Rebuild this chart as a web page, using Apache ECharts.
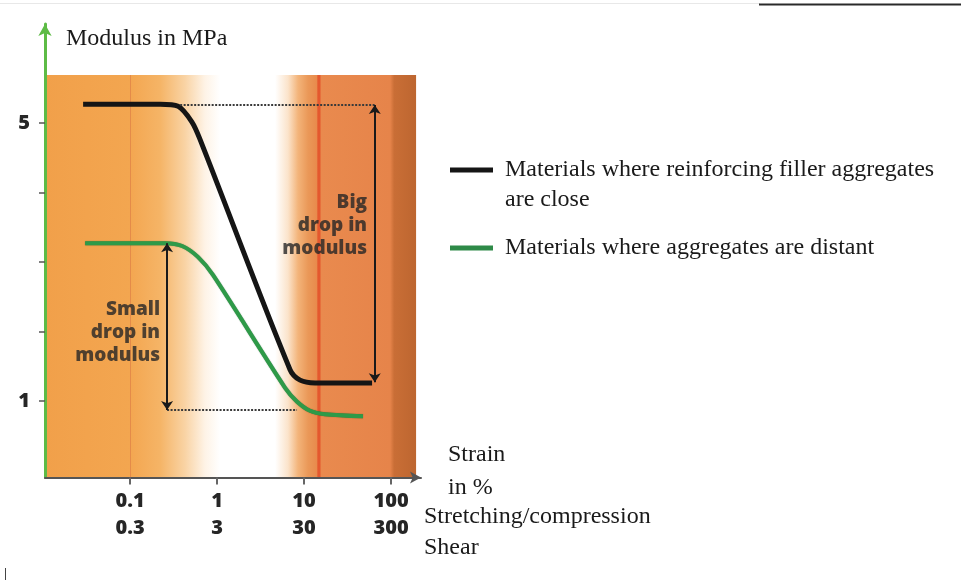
<!DOCTYPE html>
<html><head><meta charset="utf-8">
<script src="https://cdn.jsdelivr.net/npm/echarts@6/dist/echarts.min.js"></script>
<style>html,body{margin:0;padding:0;background:#fff}#chart{width:961px;height:580px}</style>
</head><body><div id="chart"></div>
<script>
// ---- data ----
const xTicks = [0.1, 1, 10, 100];
const stretchLabels = ['0.1', '1', '10', '100'];
const shearLabels = ['0.3', '3', '30', '300'];
const yTicks = [1, 2, 3, 4, 5];
const yLabelTicks = [1, 5];

const closeName = 'Materials where reinforcing filler aggregates';
const closeNameCont = 'are close';
const distantName = 'Materials where aggregates are distant';

const closeStrain = [0.0288, 0.221, 0.356, 0.516, 0.638, 6.90, 9.00, 13.4, 60.5];
const closeModulus = [5.27, 5.27, 5.24, 5.01, 4.76, 1.45, 1.30, 1.26, 1.26];
const distantStrain = [0.0304, 0.252, 0.396, 0.605, 0.90, 6.05, 8.32, 11.7, 17.4, 47.6];
const distantModulus = [3.27, 3.27, 3.23, 3.07, 2.81, 1.19, 0.99, 0.86, 0.81, 0.78];

// annotations (data coordinates)
const bigDrop = { x: 65, top: 5.26, bottom: 1.27, refStart: 0.376 };
const smallDrop = { x: 0.266, top: 3.27, bottom: 0.87, refEnd: 8.3 };
const annotationPoints = [[53, 3.53], [0.221, 1.99]];
const annotationTexts = ['Big\ndrop in\nmodulus', 'Small\ndrop in\nmodulus'];

// axis extents & background panel
const xMin = 0.0105, xMax = 221;
const yMin = -0.1, yMax = 6.424;
const panelRight = 194, panelTop = 5.69;
const guideX = 0.1;

const serif = 'Liberation Serif';
const sans = 'Open Sans';

function zip(a, b) { return a.map((v, i) => [v, b[i]]); }
function tickIndex(v) {
  let best = 0, d = Infinity;
  xTicks.forEach((t, i) => { const dd = Math.abs(Math.log10(v) - Math.log10(t)); if (dd < d) { d = dd; best = i; } });
  return best;
}

const chart = echarts.init(document.getElementById('chart'), null, { renderer: 'canvas' });

const panelGradient = new echarts.graphic.LinearGradient(0, 0, 1, 0, [
  { offset: 0, color: '#F1A04A' },
  { offset: 0.229, color: '#F3A650' },
  { offset: 0.31, color: '#F5B466' },
  { offset: 0.377, color: '#F9D3A4' },
  { offset: 0.431, color: '#FEF3E6' },
  { offset: 0.472, color: '#FFFFFF' },
  { offset: 0.62, color: '#FFFFFF' },
  { offset: 0.655, color: '#FBE3CA' },
  { offset: 0.682, color: '#F3B47A' },
  { offset: 0.709, color: '#EA9858' },
  { offset: 0.733, color: '#E88A4C' },
  { offset: 0.735, color: '#E4582E' },
  { offset: 0.741, color: '#E4582E' },
  { offset: 0.744, color: '#E98A4E' },
  { offset: 0.93, color: '#E6844A' },
  { offset: 0.941, color: '#C96E36' },
  { offset: 1, color: '#BD6630' }
]);

const serifText = { fontFamily: serif, fontSize: 24, fontWeight: 'normal', color: '#1a1a1a' };

const option = {
  animation: false,
  backgroundColor: '#ffffff',
  title: [
    { text: 'Modulus in MPa', left: 66, top: 27, padding: 0, textStyle: serifText },
    { text: closeNameCont, left: 505, top: 188, padding: 0, textStyle: serifText },
    { text: 'Strain\nin %', left: 448, top: 438, padding: 0, textStyle: Object.assign({ lineHeight: 33 }, serifText) },
    { text: 'Stretching/compression\nShear', left: 424, top: 501, padding: 0, textStyle: Object.assign({ lineHeight: 31 }, serifText) }
  ],
  legend: {
    orient: 'vertical', left: 450, top: 155, padding: 0, itemWidth: 43, itemHeight: 5, itemGap: 48,
    selectedMode: false,
    icon: 'rect',
    data: [
      { name: closeName, icon: 'rect' },
      { name: distantName, icon: 'rect' }
    ],
    textStyle: { fontFamily: serif, fontSize: 24, color: '#1a1a1a', lineHeight: 30, padding: [0, 0, 0, 7] }
  },
  grid: { left: 45, right: 540, top: 24, bottom: 102.55, containLabel: false, outerBoundsMode: 'none' },
  xAxis: {
    type: 'log', logBase: 10, min: xMin, max: xMax,
    axisLine: { show: true, onZero: false, symbol: ['none', 'arrow'], symbolSize: [9, 11], lineStyle: { color: '#555', width: 2 } },
    axisTick: { show: true, length: 7, customValues: xTicks, lineStyle: { color: '#666', width: 2 } },
    axisLabel: { show: true, customValues: xTicks, margin: 10, fontFamily: sans, fontWeight: 800, fontSize: 20, color: '#262626', lineHeight: 27,
      formatter: v => { const i = tickIndex(v); return stretchLabels[i] + '\n' + shearLabels[i]; } },
    splitLine: { show: false }
  },
  yAxis: {
    type: 'value', min: yMin, max: yMax,
    axisLine: { show: true, onZero: false, symbol: ['none', 'arrow'], symbolSize: [10, 12], lineStyle: { color: '#5DBB46', width: 3 } },
    axisTick: { show: true, length: 6, customValues: yTicks, lineStyle: { color: '#555', width: 1.5 } },
    axisLabel: { show: true, customValues: yLabelTicks, margin: 15, fontFamily: sans, fontWeight: 800, fontSize: 20, color: '#262626' },
    splitLine: { show: false }
  },
  series: [
    {
      name: 'panel', type: 'line', data: [], z: 0, silent: true,
      markArea: {
        silent: true, z: 0,
        itemStyle: { color: panelGradient },
        data: [[{ coord: [xMin, yMin] }, { coord: [panelRight, panelTop] }]]
      },
      markLine: {
        silent: true, z: 1, symbol: ['none', 'none'], label: { show: false },
        lineStyle: { color: 'rgba(200,90,60,0.35)', width: 1, type: 'solid' },
        data: [[{ coord: [guideX, yMin] }, { coord: [guideX, panelTop] }]]
      }
    },
    {
      name: closeName, type: 'line', z: 3, symbol: 'none', smooth: 0.3,
      lineStyle: { color: '#151515', width: 5 }, itemStyle: { color: '#151515' },
      data: zip(closeStrain, closeModulus),
      markLine: {
        silent: true, label: { show: false }, symbolSize: 9,
        data: [
          [{ coord: [bigDrop.refStart, bigDrop.top], symbol: 'none', lineStyle: { type: [2, 1.5], color: '#3a3a3a', width: 2 } },
           { coord: [bigDrop.x, bigDrop.top], symbol: 'none' }],
          [{ coord: [bigDrop.x, bigDrop.top], symbol: 'arrow', lineStyle: { type: 'solid', color: '#1a1a1a', width: 2 } },
           { coord: [bigDrop.x, bigDrop.bottom], symbol: 'arrow' }]
        ]
      }
    },
    {
      name: distantName, type: 'line', z: 3, symbol: 'none', smooth: 0.3,
      lineStyle: { color: '#2E9A48', width: 4, shadowColor: 'rgba(0,60,20,0.6)', shadowBlur: 1 }, itemStyle: { color: '#2E8A48' },
      data: zip(distantStrain, distantModulus),
      markLine: {
        silent: true, label: { show: false }, symbolSize: 9,
        data: [
          [{ coord: [smallDrop.x, smallDrop.bottom], symbol: 'none', lineStyle: { type: [2, 1.5], color: '#3a3a3a', width: 2 } },
           { coord: [smallDrop.refEnd, smallDrop.bottom], symbol: 'none' }],
          [{ coord: [smallDrop.x, smallDrop.top], symbol: 'arrow', lineStyle: { type: 'solid', color: '#1a1a1a', width: 2 } },
           { coord: [smallDrop.x, smallDrop.bottom], symbol: 'arrow' }]
        ]
      }
    },
    {
      name: 'notes', type: 'scatter', z: 4, symbolSize: 0, silent: true,
      data: annotationPoints.map((p, i) => ({ value: p, label: { formatter: annotationTexts[i] } })),
      label: { show: true, position: 'left', distance: 0, fontFamily: sans, fontWeight: 800, fontSize: 19, lineHeight: 23, color: '#262626' }
    }
  ],
  graphic: [
    { type: 'line', silent: true, shape: { x1: 0, y1: 3.5, x2: 760, y2: 3.5 }, style: { stroke: '#e8e8e8', lineWidth: 1 } },
    { type: 'line', silent: true, shape: { x1: 759, y1: 4.5, x2: 961, y2: 4.5 }, style: { stroke: '#2a2a2a', lineWidth: 2 } },
    { type: 'line', silent: true, shape: { x1: 5.5, y1: 568, x2: 5.5, y2: 580 }, style: { stroke: '#444', lineWidth: 1 } }
  ]
};
chart.setOption(option);
</script></body></html>
